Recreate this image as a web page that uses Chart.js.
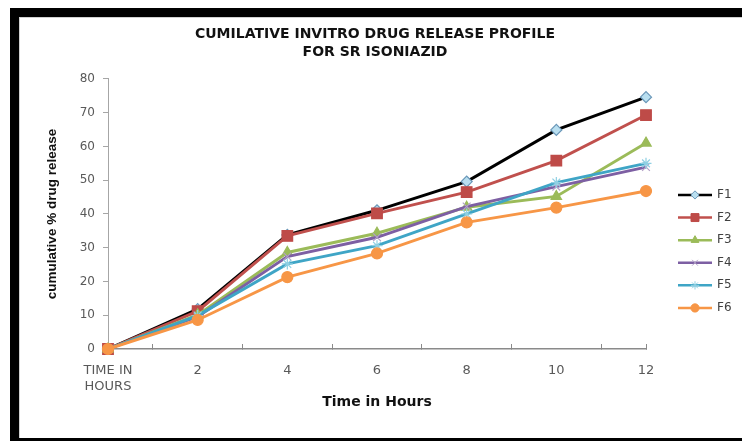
<!DOCTYPE html>
<html>
<head>
<meta charset="utf-8">
<script src="https://cdn.jsdelivr.net/npm/chart.js@4"></script>
<style>
  html, body { margin: 0; padding: 0; background: #fff; }
  #wrap { position: relative; width: 742px; height: 441px; overflow: hidden; }
  .bar { position: absolute; background: #000; }
  #chart { position: absolute; left: 0; top: 0; }
</style>
</head>
<body>
<div id="wrap">
  <div class="bar" style="left:10px;top:8px;width:732px;height:9px"></div>
  <div class="bar" style="left:10px;top:8px;width:9px;height:433px"></div>
  <div class="bar" style="left:10px;top:438px;width:732px;height:3px"></div>
  <div style="position:absolute;left:19px;top:17px;width:723px;height:1px;background:#d0d0d0"></div>
  <div style="position:absolute;left:19px;top:17px;width:1px;height:421px;background:#d0d0d0"></div>
  <canvas id="chart" width="742" height="441"></canvas>
</div>
<script>
// time points (hours) and cumulative % release per formulation
const hours = [0, 2, 4, 6, 8, 10, 12];
const f1 = [0, 11.8, 33.8, 41.1, 49.6, 64.9, 74.6];
const f2 = [0, 11.2, 33.5, 40.2, 46.5, 55.8, 69.3];
const f3 = [0, 10.1, 28.6, 34.3, 42.0, 45.2, 61.0];
const f4 = [0, 9.6, 27.4, 33.1, 42.2, 48.1, 53.9];
const f5 = [0, 9.9, 25.2, 30.6, 40.0, 49.3, 55.0];
const f6 = [0, 8.6, 21.3, 28.3, 37.5, 41.9, 46.8];
const seriesNames = ["F1", "F2", "F3", "F4", "F5", "F6"];
const firstLabel = ["TIME IN", "HOURS"];

const styles = [
  { line: "#000000", fill: "#b9dff0", edge: "#6a97b8", shape: "rectRot", r: 5.5 },
  { line: "#c0504d", fill: "#be4b48", edge: "#be4b48", shape: "rect", r: 7.5 },
  { line: "#9bbb59", fill: "#9bbb59", edge: "#9bbb59", shape: "triangle", r: 6 },
  { line: "#7d5fa3", fill: "#b3a2c7", edge: "#b3a2c7", shape: "crossRot", r: 5.5 },
  { line: "#3fa5c6", fill: "#8fd0e3", edge: "#8fd0e3", shape: "star", r: 5.5 },
  { line: "#f79646", fill: "#f79646", edge: "#f79646", shape: "circle", r: 5.5 }
];

const values = [f1, f2, f3, f4, f5, f6];
const datasets = values.map((vals, i) => ({
  label: seriesNames[i],
  data: vals.map((v, j) => ({ x: hours[j], y: v })),
  borderColor: styles[i].line,
  borderWidth: 2.9,
  backgroundColor: styles[i].fill,
  pointStyle: styles[i].shape,
  pointRadius: styles[i].r,
  pointBackgroundColor: styles[i].fill,
  pointBorderColor: styles[i].edge,
  pointBorderWidth: 1.2,
  tension: 0,
  clip: false,
  order: 6 - i
}));

// legend drawn as line + marker, like the spreadsheet one
const sideLegend = {
  id: "sideLegend",
  afterDraw(chart) {
    const ctx = chart.ctx;
    const area = chart.chartArea;
    const x0 = area.right + 32;
    const y0 = area.top + 116;
    ctx.save();
    chart.data.datasets.forEach((ds, i) => {
      const y = y0 + i * 22.6;
      ctx.strokeStyle = ds.borderColor;
      ctx.lineWidth = 2.5;
      ctx.beginPath();
      ctx.moveTo(x0, y);
      ctx.lineTo(x0 + 34, y);
      ctx.stroke();
      ctx.fillStyle = ds.pointBackgroundColor;
      ctx.strokeStyle = ds.pointBorderColor;
      ctx.lineWidth = 1;
      Chart.helpers.drawPoint(ctx, { pointStyle: ds.pointStyle, radius: ds.pointRadius * 0.75, borderWidth: 1 }, x0 + 17, y);
      ctx.fillStyle = "#404040";
      ctx.font = "12px 'DejaVu Sans'";
      ctx.textBaseline = "middle";
      ctx.textAlign = "left";
      ctx.fillText(ds.label, x0 + 39, y);
    });
    ctx.restore();
  }
};

new Chart(document.getElementById("chart"), {
  type: "line",
  data: { datasets: datasets },
  plugins: [sideLegend],
  options: {
    responsive: false,
    animation: false,
    layout: { padding: { top: 17, left: 20, right: 12, bottom: 0 } },
    plugins: {
      legend: { display: false },
      tooltip: { enabled: false },
      title: {
        display: true,
        text: ["CUMILATIVE INVITRO DRUG RELEASE PROFILE", "FOR SR ISONIAZID"],
        color: "#111",
        font: { family: "'DejaVu Sans'", size: 14, weight: "bold", lineHeight: 1.32 },
        padding: { top: 8, bottom: 17 }
      }
    },
    scales: {
      x: {
        type: "linear",
        min: 0,
        max: 12,
        afterFit(scale) { scale.height = 92; },
        border: { color: "#8a8a8a", width: 1.6 },
        grid: {
          drawOnChartArea: false,
          tickLength: -5,
          tickColor: (c) => (c.tick && (c.tick.value % 2 === 1 || c.tick.value === 12)) ? "#8a8a8a" : "rgba(0,0,0,0)"
        },
        ticks: {
          stepSize: 1,
          autoSkip: false,
          maxRotation: 0,
          padding: 19,
          color: "#595959",
          font: { family: "'DejaVu Sans'", size: 13 },
          callback: (v) => v === 0 ? firstLabel : (v % 2 === 0 ? String(v) : "")
        },
        title: {
          display: true,
          text: "Time in Hours",
          color: "#111",
          font: { family: "'DejaVu Sans'", size: 14, weight: "bold" },
          padding: { top: 0, bottom: 30 }
        }
      },
      y: {
        min: 0,
        max: 80,
        afterFit(scale) { scale.width = 88; },
        border: { color: "#a6a6a6", width: 1 },
        grid: { drawOnChartArea: false, tickLength: 5, tickColor: "#a6a6a6" },
        ticks: {
          stepSize: 10,
          padding: 8,
          color: "#595959",
          font: { family: "'DejaVu Sans'", size: 12 }
        },
        title: {
          display: true,
          text: "cumulative % drug release",
          color: "#111",
          font: { family: "'Liberation Sans'", size: 13.5, weight: "bold" },
          padding: { top: 24, bottom: 0 }
        }
      },
      // empty right-hand box that keeps room for the legend
      legendRoom: {
        position: "right",
        afterFit(scale) { scale.width = 84; },
        grid: { display: false },
        border: { display: false },
        ticks: { display: false }
      }
    }
  }
});
</script>
</body>
</html>
